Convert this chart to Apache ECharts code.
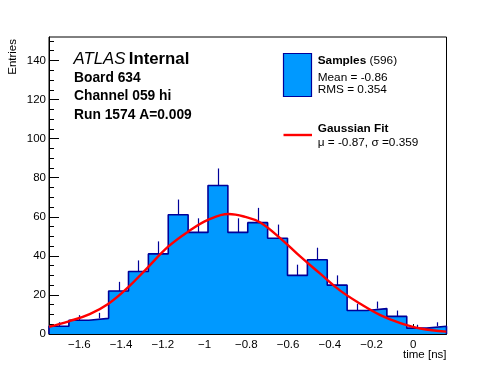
<!DOCTYPE html>
<html>
<head>
<meta charset="utf-8">
<script src="https://cdn.jsdelivr.net/npm/echarts@6/dist/echarts.min.js"></script>
<style>
html,body{margin:0;padding:0;background:#fff;}
#c{width:496px;height:372px;}
</style>
</head>
<body>
<div id="c"></div>
<script>
// ---- data ----
const counts = [4, 7, 8, 22, 32, 41, 61, 52, 76, 52, 57, 49, 30, 38, 25, 12, 13, 9, 3, 4];
const binStart = -1.745;
const binWidth = 0.0952;
const fitX = [-1.744, -1.65, -1.55, -1.46, -1.365, -1.277, -1.173, -1.077, -0.981, -0.885, -0.80, -0.733, -0.638, -0.542, -0.446, -0.35, -0.254, -0.158, -0.062, 0.034, 0.158];
const fitY = [3.7, 6.5, 10.2, 15.5, 24, 33.5, 44.8, 52.5, 58.5, 61.4, 59.8, 57.1, 49.1, 39.7, 30.9, 22.2, 15.5, 9.7, 5.6, 2.8, 1.2];
const xMajorTicks = [-1.6, -1.4, -1.2, -1, -0.8, -0.6, -0.4, -0.2, 0];
const xMinorTicks = [-1.7, -1.65, -1.55, -1.5, -1.45, -1.35, -1.3, -1.25, -1.15, -1.1, -1.05, -0.95, -0.9, -0.85, -0.75, -0.7, -0.65, -0.55, -0.5, -0.45, -0.35, -0.3, -0.25, -0.15, -0.1, -0.05, 0.05, 0.1, 0.15];
const yMajorTicks = [0, 20, 40, 60, 80, 100, 120, 140];
const yMinorTicks = [5, 10, 15, 25, 30, 35, 45, 50, 55, 65, 70, 75, 85, 90, 95, 105, 110, 115, 125, 130, 135, 145, 150];
const xMin = -1.745, xMax = 0.159, yMin = 0, yMax = 152;

// ---- derived structures ----
const FONT = 'Liberation Sans, Arial, Helvetica, sans-serif';
const FILL = '#0099ff';
const EDGE = '#000099';
const outline = [[binStart, 0]];
counts.forEach((c, i) => {
  outline.push([binStart + i * binWidth, c]);
  outline.push([binStart + (i + 1) * binWidth, c]);
});
outline.push([binStart + counts.length * binWidth, 0]);
const errData = counts.map((c, i) => [binStart + (i + 0.5) * binWidth, c, c + Math.sqrt(c)]);
const fitData = fitX.map((x, i) => [x, fitY[i]]);
const fmt = v => String(v).replace('-', '\u2212');

const chart = echarts.init(document.getElementById('c'), null, {renderer: 'canvas'});
const option = {
  animation: false,
  backgroundColor: '#fff',
  grid: {left: 49, right: 49.5, top: 37, bottom: 38, containLabel: false, show: true, borderColor: '#000', borderWidth: 1, backgroundColor: 'transparent'},
  xAxis: [
    {
      type: 'value', min: xMin, max: xMax, position: 'bottom',
      axisLine: {show: true, onZero: false, lineStyle: {color: '#000', width: 1}},
      axisTick: {show: true, inside: true, length: 10, customValues: xMajorTicks, lineStyle: {color: '#000', width: 1}},
      axisLabel: {show: true, customValues: xMajorTicks, formatter: fmt, color: '#000', fontSize: 11.5, fontFamily: FONT, margin: 4.5},
      splitLine: {show: false}
    },
    {
      type: 'value', min: xMin, max: xMax, position: 'bottom', offset: 0,
      axisLine: {show: false, onZero: false},
      axisTick: {show: true, inside: true, length: 5, customValues: xMinorTicks, lineStyle: {color: '#000', width: 1}},
      axisLabel: {show: false},
      splitLine: {show: false}
    }
  ],
  yAxis: [
    {
      type: 'value', min: yMin, max: yMax, position: 'left',
      axisLine: {show: true, onZero: false, lineStyle: {color: '#000', width: 1}},
      axisTick: {show: true, inside: true, length: 10, customValues: yMajorTicks, lineStyle: {color: '#000', width: 1}},
      axisLabel: {show: true, customValues: yMajorTicks, color: '#000', fontSize: 11.5, fontFamily: FONT, margin: 3},
      splitLine: {show: false}
    },
    {
      type: 'value', min: yMin, max: yMax, position: 'left', offset: 0,
      axisLine: {show: false, onZero: false},
      axisTick: {show: true, inside: true, length: 5, customValues: yMinorTicks, lineStyle: {color: '#000', width: 1}},
      axisLabel: {show: false},
      splitLine: {show: false}
    }
  ],
  series: [
    {
      type: 'line', xAxisIndex: 0, yAxisIndex: 0, z: 2, data: outline, symbol: 'none',
      lineStyle: {color: EDGE, width: 1.6}, areaStyle: {color: FILL, opacity: 1, origin: 'start'}, silent: true
    },
    {
      type: 'custom', xAxisIndex: 0, yAxisIndex: 0, z: 3,
      encode: {x: 0, y: [1, 2]},
      data: errData,
      renderItem: function (params, api) {
        const a = api.coord([api.value(0), api.value(1)]);
        const b = api.coord([api.value(0), api.value(2)]);
        return {type: 'line', shape: {x1: Math.round(a[0]) + 0.5, y1: a[1], x2: Math.round(a[0]) + 0.5, y2: b[1]}, style: {stroke: EDGE, lineWidth: 1.2}};
      }
    },
    {
      type: 'line', xAxisIndex: 0, yAxisIndex: 0, z: 4, data: fitData, symbol: 'none', smooth: 0.4,
      lineStyle: {color: '#ff0000', width: 2.4}, silent: true
    }
  ],
  graphic: [
    {type: 'text', x: 13, y: 39, rotation: Math.PI / 2, style: {text: 'Entries', fill: '#000', font: '11.5px ' + FONT, align: 'right', verticalAlign: 'middle'}},
    {type: 'text', x: 446.5, y: 354.5, style: {text: 'time [ns]', fill: '#000', font: '11.5px ' + FONT, align: 'right', verticalAlign: 'middle'}},
    {type: 'text', x: 73.5, y: 59.5, style: {
      text: '{i|ATLAS} {b|Internal}', align: 'left', verticalAlign: 'middle', fill: '#000',
      rich: {
        i: {fontStyle: 'italic', fontSize: 16.8, fontFamily: FONT, fill: '#000'},
        b: {fontWeight: 'bold', fontSize: 16.8, fontFamily: FONT, fill: '#000'}
      }
    }},
    {type: 'text', x: 74, y: 77.7, style: {text: 'Board 634', fill: '#000', font: 'bold 13.8px ' + FONT, align: 'left', verticalAlign: 'middle'}},
    {type: 'text', x: 74, y: 96.3, style: {text: 'Channel 059 hi', fill: '#000', font: 'bold 13.8px ' + FONT, align: 'left', verticalAlign: 'middle'}},
    {type: 'text', x: 74, y: 115.3, style: {text: 'Run 1574 A=0.009', fill: '#000', font: 'bold 13.8px ' + FONT, align: 'left', verticalAlign: 'middle'}},
    {type: 'rect', shape: {x: 283.5, y: 53.5, width: 28, height: 43}, style: {fill: FILL, stroke: EDGE, lineWidth: 1.2}},
    {type: 'text', x: 317.7, y: 61.2, style: {
      text: '{b|Samples} {n|(596)}', align: 'left', verticalAlign: 'middle', fill: '#000',
      rich: {
        b: {fontWeight: 'bold', fontSize: 11.8, fontFamily: FONT, fill: '#000'},
        n: {fontSize: 11.8, fontFamily: FONT, fill: '#000'}
      }
    }},
    {type: 'text', x: 317.7, y: 77.5, style: {text: 'Mean = -0.86', fill: '#000', font: '11.8px ' + FONT, align: 'left', verticalAlign: 'middle'}},
    {type: 'text', x: 317.7, y: 89.5, style: {text: 'RMS = 0.354', fill: '#000', font: '11.8px ' + FONT, align: 'left', verticalAlign: 'middle'}},
    {type: 'line', shape: {x1: 283.5, y1: 135, x2: 312, y2: 135}, style: {stroke: '#ff0000', lineWidth: 2.4}},
    {type: 'text', x: 317.7, y: 128.5, style: {text: 'Gaussian Fit', fill: '#000', font: 'bold 11.8px ' + FONT, align: 'left', verticalAlign: 'middle'}},
    {type: 'text', x: 317.7, y: 142.5, style: {text: '\u03bc = -0.87, \u03c3 =0.359', fill: '#000', font: '11.8px ' + FONT, align: 'left', verticalAlign: 'middle'}}
  ]
};
chart.setOption(option);
</script>
</body>
</html>
